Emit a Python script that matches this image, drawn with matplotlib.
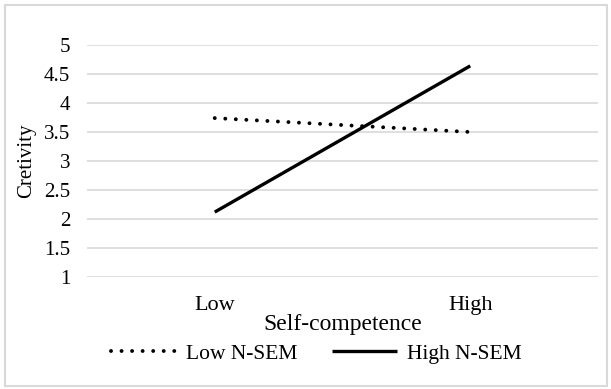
import matplotlib.pyplot as plt
from matplotlib.patches import Rectangle

categories = ['Low', 'High']
low_nsem = [3.74, 3.50]
high_nsem = [2.12, 4.64]
yticks = [1, 1.5, 2, 2.5, 3, 3.5, 4, 4.5, 5]

plt.rcParams['font.family'] = ['Liberation Serif', 'DejaVu Serif']

fig = plt.figure(figsize=(6.11, 3.89), dpi=100)
ax = fig.add_axes([0.1424, 0.2879, 0.8363, 0.5964])

x = range(len(categories))
ax.plot(x, low_nsem, color='black', lw=2.8, linestyle=(0, (0.01, 2.7)),
        dash_capstyle='round', label='Low N-SEM')
ax.plot(x, high_nsem, color='black', lw=2.4, solid_capstyle='butt',
        label='High N-SEM')

ax.set_xlim(-0.5, 1.5)
ax.set_ylim(1, 5)
ax.set_yticks(yticks)
ax.set_yticklabels(['1', '1.5', '2', '2.5', '3', '3.5', '4', '4.5', '5'])
ax.set_xticks(list(x))
ax.set_xticklabels(categories)
ax.grid(axis='y', color='#d9d9d9', lw=1.2)
ax.set_axisbelow(True)
for s in ax.spines.values():
    s.set_visible(False)
ax.tick_params(axis='both', length=0)
ax.tick_params(axis='y', pad=12, labelsize=15)
ax.tick_params(axis='x', pad=14, labelsize=16)

ax.set_ylabel('Cretivity', fontsize=15)
ax.yaxis.set_label_coords(-0.10, 0.5)
ax.set_xlabel('Self-competence', fontsize=17, labelpad=-1)

fig.legend(loc='center', bbox_to_anchor=(0.518, 0.09), ncol=2, frameon=False,
           fontsize=15.5, handlelength=3.0, handletextpad=0.5, columnspacing=1.6)

fig.patches.append(Rectangle((0.008, 0.008), 0.986, 0.978, transform=fig.transFigure,
                             fill=False, edgecolor='#d9d9d9', lw=1.5))

fig.savefig('out.png', dpi=100)
